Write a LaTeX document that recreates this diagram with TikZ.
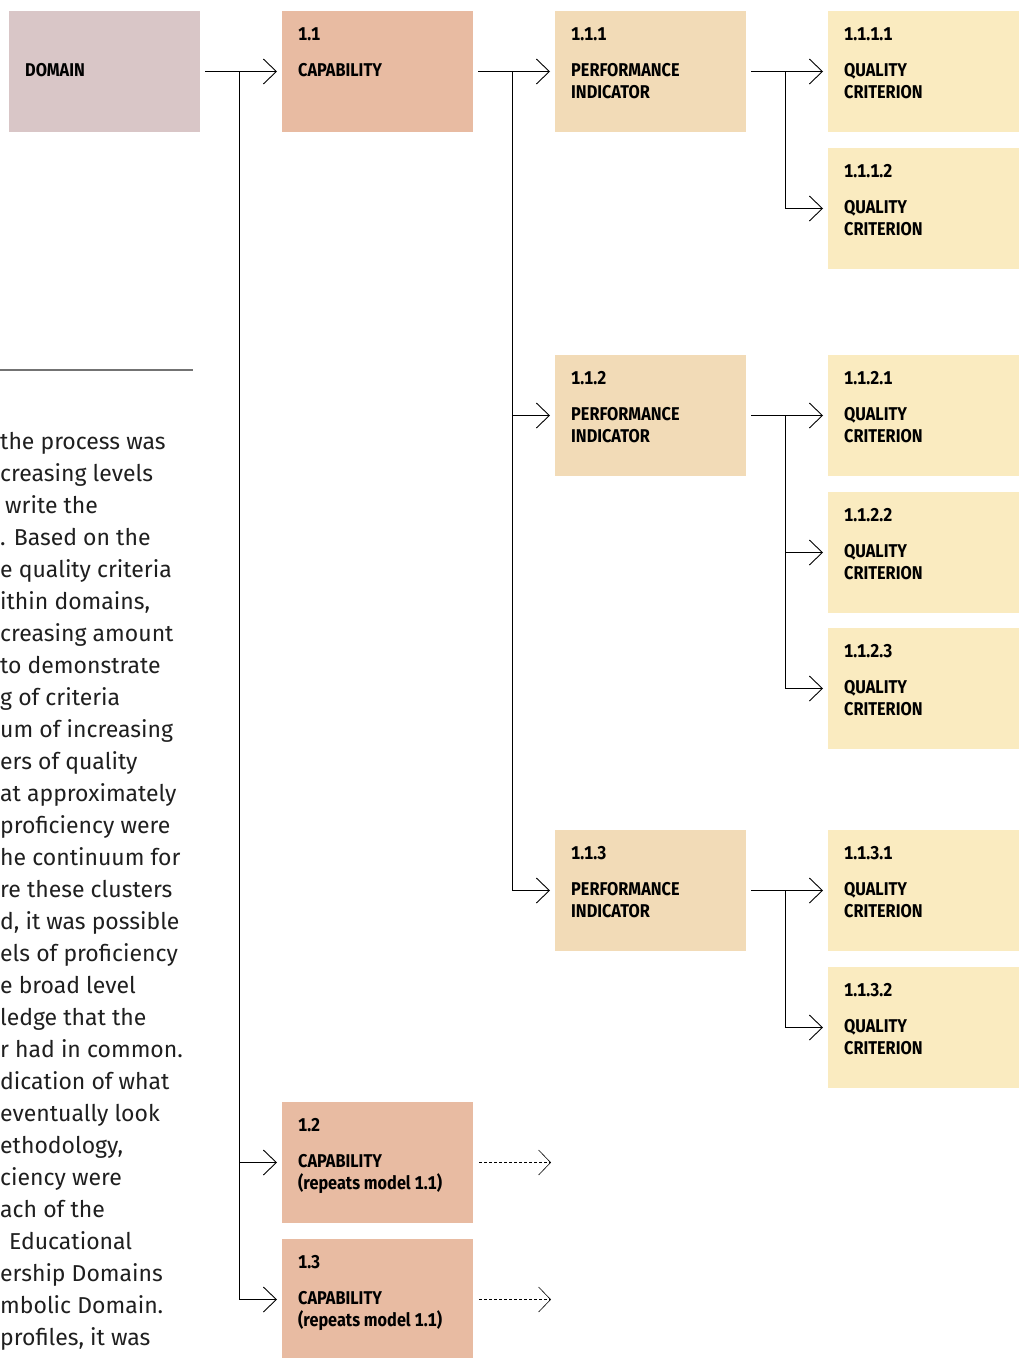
\documentclass[tikz,border=0pt]{standalone}
\usepackage{fontspec}
\setmainfont{Fira Sans}
\newfontfamily\boxfont{Fira Sans}[FakeStretch=0.88, Numbers=Monospaced]
\usetikzlibrary{arrows.meta,calc}
\definecolor{domc}{HTML}{D9C6C7}
\definecolor{capc}{HTML}{E8BBA2}
\definecolor{pic}{HTML}{F2DBB7}
\definecolor{qcc}{HTML}{FAEBC0}
\newcommand\qbox[7]{%
  \node[box,fill=#4] (#1) at (#2,#3) {};
  \node[lbl] (#1-n) at ($(#1.north west)+(16,29.5)$) {#5};
  \node[lbl] (#1-a) at ($(#1.north west)+(16,65.5)$) {#6};
  \node[lbl] (#1-b) at ($(#1.north west)+(16,87.5)$) {#7};}
\begin{document}
\begin{tikzpicture}[x=1pt,y=-1pt,
  box/.style={draw=none, minimum width=191pt, minimum height=121pt, anchor=north west, inner sep=0pt, outer sep=0pt},
  lbl/.style={anchor=base west, inner sep=0pt, font=\boxfont\bfseries\fontsize{18.5}{22}\selectfont},
  body/.style={anchor=base west, inner sep=0pt, font=\fontsize{23}{32}\selectfont, text=black!88},
  ln/.style={draw, line width=0.9pt},
  ar/.style={ln, -{Straight Barb[length=13pt,width=25pt,line width=0.9pt]}},
  dar/.style={draw, line width=0.9pt, dash pattern=on 3pt off 2pt, -{Straight Barb[length=12pt,width=25pt,line width=0.6pt]}},
  rule/.style={draw=black!55, line width=1.2pt}]
\useasboundingbox (0,0) rectangle (1021,1358);
% boxes
\node[box,fill=domc] (dom) at (9,11) {};
\node[lbl] (dom-a) at ($(dom.north west)+(16,65.5)$) {DOMAIN};
\qbox{c11}{282}{11}{capc}{1.1}{CAPABILITY}{}
\qbox{p111}{555}{11}{pic}{1.1.1}{PERFORMANCE}{INDICATOR}
\qbox{q1111}{828}{11}{qcc}{1.1.1.1}{QUALITY}{CRITERION}
\qbox{q1112}{828}{148}{qcc}{1.1.1.2}{QUALITY}{CRITERION}
\qbox{p112}{555}{355}{pic}{1.1.2}{PERFORMANCE}{INDICATOR}
\qbox{q1121}{828}{355}{qcc}{1.1.2.1}{QUALITY}{CRITERION}
\qbox{q1122}{828}{492}{qcc}{1.1.2.2}{QUALITY}{CRITERION}
\qbox{q1123}{828}{628}{qcc}{1.1.2.3}{QUALITY}{CRITERION}
\qbox{p113}{555}{830}{pic}{1.1.3}{PERFORMANCE}{INDICATOR}
\qbox{q1131}{828}{830}{qcc}{1.1.3.1}{QUALITY}{CRITERION}
\qbox{q1132}{828}{967}{qcc}{1.1.3.2}{QUALITY}{CRITERION}
\qbox{c12}{282}{1102}{capc}{1.2}{CAPABILITY}{(repeats model 1.1)}
\qbox{c13}{282}{1239}{capc}{1.3}{CAPABILITY}{(repeats model 1.1)}
% junctions
\coordinate (j0) at (239,71.5);
\coordinate (j1) at (512,71.5);
\coordinate (j2) at (785,71.5);
\coordinate (j3) at (785,415.5);
\coordinate (j4) at (785,890.5);
% connectors
\draw[ar] ([xshift=5pt]dom.east) -- ([xshift=-5pt]c11.west);
\draw[ar] (j0) |- ([xshift=-5pt]c12.west);
\draw[ar] (j0) |- ([xshift=-5pt]c13.west);
\draw[ar] ([xshift=5pt]c11.east) -- ([xshift=-5pt]p111.west);
\draw[ar] (j1) |- ([xshift=-5pt]p112.west);
\draw[ar] (j1) |- ([xshift=-5pt]p113.west);
\draw[ar] ([xshift=5pt]p111.east) -- ([xshift=-5pt]q1111.west);
\draw[ar] (j2) |- ([xshift=-5pt]q1112.west);
\draw[ar] ([xshift=5pt]p112.east) -- ([xshift=-5pt]q1121.west);
\draw[ar] (j3) |- ([xshift=-5pt]q1122.west);
\draw[ar] (j3) |- ([xshift=-5pt]q1123.west);
\draw[ar] ([xshift=5pt]p113.east) -- ([xshift=-5pt]q1131.west);
\draw[ar] (j4) |- ([xshift=-5pt]q1132.west);
% dashed continuations
\coordinate (d12) at (551,1162.5);
\coordinate (d13) at (551,1299.5);
\draw[dar] ([xshift=6pt]c12.east) -- (d12);
\draw[dar] ([xshift=6pt]c13.east) -- (d13);
% left text column
\draw[rule] (0,370) -- (193,370);
\foreach \t [count=\i from 0] in {
  {the process was},{creasing levels},{\hspace{5pt}write the},{. Based on the},
  {e quality criteria},{ithin domains,},{creasing amount},{to demonstrate},
  {g of criteria},{um of increasing},{ers of quality},{at approximately},
  {proficiency were},{he continuum for},{re these clusters},{d, it was possible},
  {els of proficiency},{e broad level},{ledge that the},{r had in common.},
  {dication of what},{eventually look},{ethodology,},{ciency were},
  {ach of the},{\hspace{9pt}Educational},{ership Domains},{mbolic Domain.},
  {profiles, it was}}
  \node[body] (t\i) at (0,{449+32*\i}) {\t};
\end{tikzpicture}
\end{document}
